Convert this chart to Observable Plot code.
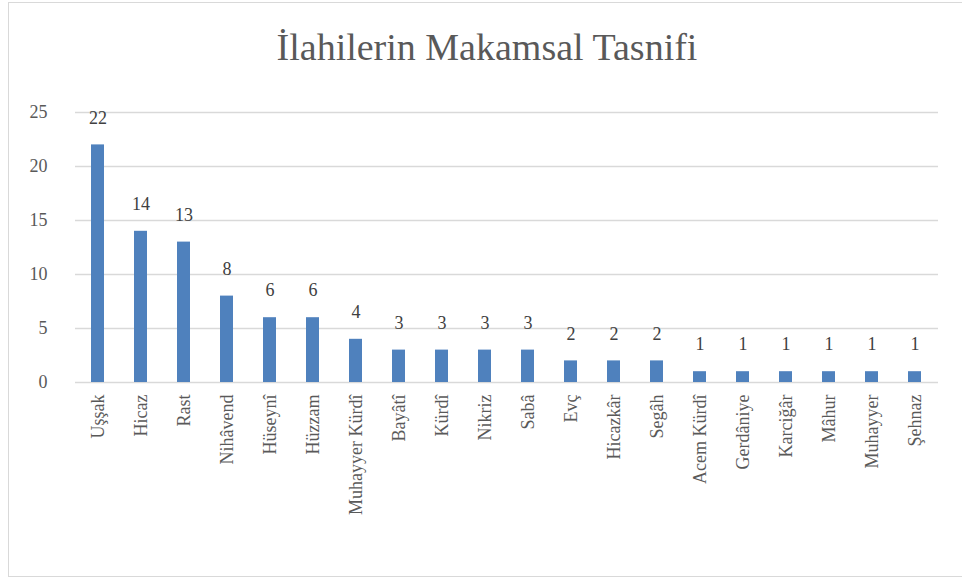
<!DOCTYPE html>
<html>
<head>
<meta charset="utf-8">
<script src="https://cdn.jsdelivr.net/npm/d3@7"></script>
<script src="https://cdn.jsdelivr.net/npm/@observablehq/plot@0.6"></script>
<style>
  html, body { margin: 0; padding: 0; background: #fff; }
  #wrap { position: relative; width: 962px; height: 581px; overflow: hidden; font-family: "Liberation Serif", "DejaVu Serif", serif; }
  #frame { position: absolute; left: 8px; top: 2px; width: 1000px; height: 575px; border: 1px solid #d9d9d9; box-sizing: border-box; }
  #title { position: absolute; left: 0; top: 25px; width: 974px; text-align: center; font-size: 38px; color: #595959; }
  #chart { position: absolute; left: 0; top: 0; }
</style>
</head>
<body>
<div id="wrap">
  <div id="frame"></div>
  <div id="title">İlahilerin Makamsal Tasnifi</div>
  <div id="chart"></div>
</div>
<script>
const categories = ["Uşşak", "Hicaz", "Rast", "Nihâvend", "Hüseynî", "Hüzzam", "Muhayyer Kürdî", "Bayâtî", "Kürdî", "Nikriz", "Sabâ", "Evç", "Hicazkâr", "Segâh", "Acem Kürdî", "Gerdâniye", "Karciğâr", "Mâhur", "Muhayyer", "Şehnaz"];
const counts = [22, 14, 13, 8, 6, 6, 4, 3, 3, 3, 3, 2, 2, 2, 1, 1, 1, 1, 1, 1];
const yTicks = [0, 5, 10, 15, 20, 25];

const data = categories.map((c, i) => ({ cat: c, value: counts[i] }));

const chart = Plot.plot({
  width: 962,
  height: 581,
  marginLeft: 75,
  marginRight: 24,
  marginTop: 112,
  marginBottom: 199,
  style: { fontFamily: "Liberation Serif, DejaVu Serif, serif", fontSize: "17px", color: "#595959", background: "transparent" },
  x: { domain: categories, paddingInner: 0.69, paddingOuter: 0.345, align: 0.5, label: null },
  y: { domain: [0, 25], ticks: yTicks, label: null },
  marks: [
    Plot.gridY(yTicks, { stroke: "#d9d9d9", strokeOpacity: 1, strokeWidth: 1.5 }),
    Plot.barY(data, { x: "cat", y: "value", fill: "#4f81bd" }),
    Plot.text(data, { x: "cat", y: "value", text: d => String(d.value), dy: -27, fill: "#404040", fontSize: 18 }),
    Plot.axisY(yTicks, { tickSize: 0, tickPadding: 28, fill: "#595959", fontSize: 18 }),
    Plot.axisX({ tickSize: 0, tickPadding: 12, tickRotate: -90, fill: "#595959", fontSize: 18 })
  ]
});
document.getElementById("chart").appendChild(chart);
</script>
</body>
</html>
